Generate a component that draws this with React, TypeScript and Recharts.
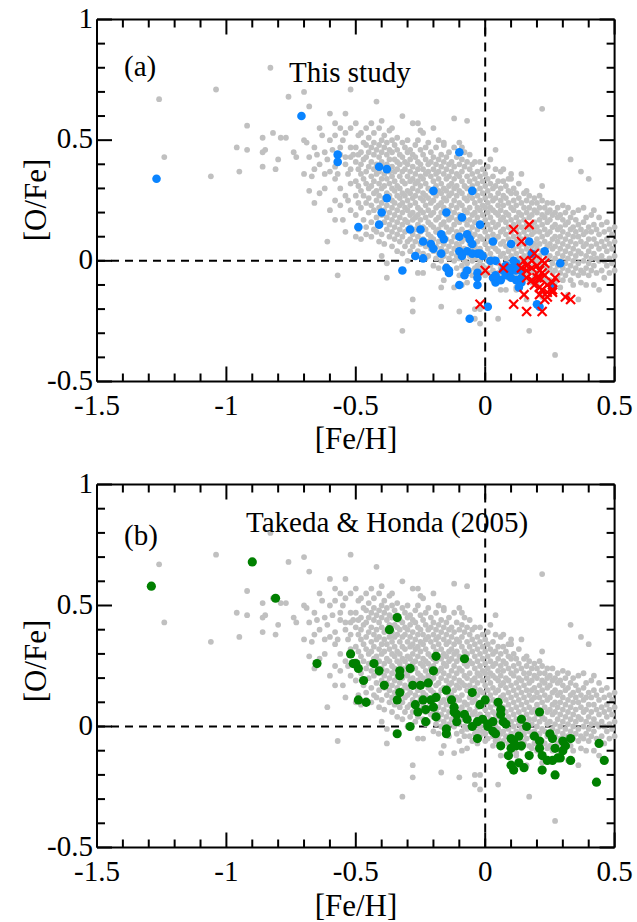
import { ScatterChart, Scatter, XAxis, YAxis, ReferenceLine } from "recharts";

// tick positions and labels
const xTicks = [-1.5, -1.4, -1.3, -1.2, -1.1, -1, -0.9, -0.8, -0.7, -0.6, -0.5, -0.4, -0.3, -0.2, -0.1, 0, 0.1, 0.2, 0.3, 0.4, 0.5];
const xLabels = [-1.5, -1, -0.5, 0, 0.5];
const yTicks = [-0.5, -0.4, -0.3, -0.2, -0.1, 0, 0.1, 0.2, 0.3, 0.4, 0.5, 0.6, 0.7, 0.8, 0.9, 1];
const yLabels = [-0.5, 0, 0.5, 1];

// comparison sample (grey), sparse stars: [Fe/H], [O/Fe]
const greyOutliers: [number, number][] = [
  [-1.26, 0.67], [-1.24, 0.43], [-1.06, 0.35], [-1.04, 0.71], [-0.95, 0.37], [-0.92, 0.56], [-0.96, 0.47],
  [-0.92, 0.46], [-0.86, 0.51], [-0.82, 0.53], [-0.79, 0.51], [-0.86, 0.45], [-0.85, 0.46], [-0.86, 0.39],
  [-0.81, 0.38], [-0.8, 0.42], [-0.83, 0.8], [-0.76, 0.68], [-0.74, 0.45], [-0.73, 0.43], [-0.77, 0.51],
  [-0.61, 0.08], [-0.57, -0.06], [-0.32, -0.29], [0.22, 0.63], [0.33, 0.42], [0.37, 0.37], [0.4, 0.34],
  [0.17, -0.29], [0.27, -0.39], [-0.02, -0.26], [0.05, -0.24], [-0.1, -0.21], [-0.28, -0.16], [-0.28, -0.21],
  [-0.17, -0.19], [-0.04, -0.2], [-0.04, -0.24], [-0.02, -0.2], [-0.16, 0.49], [-0.09, 0.47], [-0.25, 0.54],
  [0.07, 0.38], [0.1, 0.34], [-0.17, -0.11], [-0.09, -0.1], [0.06, -0.12], [0.12, -0.12], [-0.36, 0.55],
  [-0.69, 0.49], [-0.67, 0.35], [-0.65, 0.44], [-0.63, 0.52], [-0.61, 0.42], [-0.59, 0.46], [-0.57, 0.36],
  [-0.55, 0.5], [-0.53, 0.36], [-0.51, 0.44], [-0.53, 0.25], [-0.55, 0.17],
];

// comparison sample (grey), dense part, grouped by [Fe/H]
const greyColumns: [number, number[]][] = [
  [-0.7, [0.7, 0.5, 0.36]],
  [-0.68, [0.64, 0.43, 0.29]],
  [-0.66, [0.47, 0.38, 0.24]],
  [-0.64, [0.55, 0.4, 0.28]],
  [-0.62, [0.45, 0.36, 0.3]],
  [-0.6, [0.61, 0.5, 0.37, 0.21]],
  [-0.58, [0.57, 0.52, 0.39, 0.34, 0.25, 0.17]],
  [-0.56, [0.55, 0.47, 0.44, 0.3, 0.23]],
  [-0.54, [0.61, 0.53, 0.43, 0.4, 0.27, 0.12]],
  [-0.52, [0.71, 0.55, 0.47, 0.43, 0.38, 0.32, 0.21]],
  [-0.5, [0.57, 0.47, 0.41, 0.33, 0.27, 0.19, 0.1]],
  [-0.49, [0.52, 0.44, 0.38, 0.31, 0.24, 0.13]],
  [-0.48, [0.53, 0.45, 0.4, 0.36, 0.29, 0.22, 0.09]],
  [-0.47, [0.49, 0.42, 0.34, 0.27, 0.17]],
  [-0.46, [0.55, 0.48, 0.43, 0.37, 0.32, 0.24, 0.14, 0.11]],
  [-0.45, [0.51, 0.45, 0.39, 0.3, 0.26, 0.2]],
  [-0.44, [0.57, 0.47, 0.41, 0.35, 0.31, 0.23, 0.16, 0.1]],
  [-0.43, [0.53, 0.49, 0.44, 0.38, 0.33, 0.28, 0.21, 0.13]],
  [-0.42, [0.66, 0.46, 0.4, 0.36, 0.29, 0.25, 0.18, 0.12]],
  [-0.41, [0.55, 0.48, 0.43, 0.37, 0.32, 0.27, 0.22, 0.15, 0.08]],
  [-0.4, [0.58, 0.5, 0.45, 0.41, 0.34, 0.3, 0.24, 0.19, 0.11, 0.02]],
  [-0.39, [0.52, 0.47, 0.39, 0.36, 0.31, 0.26, 0.21, 0.16, 0.07]],
  [-0.38, [0.49, 0.44, 0.4, 0.34, 0.28, 0.23, 0.18, 0.13, -0.01, -0.07]],
  [-0.37, [0.54, 0.46, 0.42, 0.37, 0.32, 0.27, 0.2, 0.15, 0.1]],
  [-0.36, [0.5, 0.45, 0.39, 0.35, 0.3, 0.25, 0.22, 0.17, 0.12, 0.06]],
  [-0.35, [0.48, 0.42, 0.37, 0.33, 0.29, 0.24, 0.19, 0.14, 0.09]],
  [-0.34, [0.51, 0.46, 0.41, 0.38, 0.31, 0.27, 0.21, 0.16, 0.11, 0.04]],
  [-0.33, [0.44, 0.4, 0.35, 0.3, 0.26, 0.23, 0.18, 0.13, 0.08]],
  [-0.32, [0.6, 0.49, 0.43, 0.37, 0.33, 0.28, 0.24, 0.2, 0.15, 0.1, 0.03]],
  [-0.31, [0.47, 0.41, 0.38, 0.32, 0.27, 0.22, 0.17, 0.12, 0.06]],
  [-0.3, [0.5, 0.45, 0.4, 0.35, 0.29, 0.25, 0.21, 0.16, 0.13, 0.08, 0.0]],
  [-0.29, [0.46, 0.42, 0.37, 0.33, 0.28, 0.23, 0.19, 0.14, 0.09, 0.04]],
  [-0.28, [0.57, 0.44, 0.39, 0.34, 0.3, 0.26, 0.2, 0.17, 0.11, 0.06]],
  [-0.27, [0.48, 0.43, 0.36, 0.32, 0.27, 0.24, 0.18, 0.13, 0.08, 0.02]],
  [-0.26, [0.57, 0.5, 0.41, 0.38, 0.33, 0.29, 0.22, 0.19, 0.15, 0.1, 0.04, -0.05]],
  [-0.25, [0.46, 0.4, 0.35, 0.31, 0.26, 0.21, 0.17, 0.12, 0.07]],
  [-0.24, [0.53, 0.44, 0.38, 0.34, 0.28, 0.25, 0.2, 0.14, 0.09, 0.03, -0.05]],
  [-0.23, [0.47, 0.42, 0.36, 0.32, 0.27, 0.23, 0.18, 0.13, 0.06, 0.01]],
  [-0.22, [0.49, 0.4, 0.37, 0.3, 0.26, 0.21, 0.16, 0.11, 0.08, 0.02]],
  [-0.21, [0.45, 0.41, 0.35, 0.29, 0.24, 0.19, 0.15, 0.1, 0.05]],
  [-0.2, [0.55, 0.43, 0.38, 0.33, 0.28, 0.25, 0.2, 0.14, 0.09, 0.04, -0.02]],
  [-0.19, [0.47, 0.4, 0.36, 0.31, 0.27, 0.22, 0.17, 0.12, 0.06, 0.01]],
  [-0.18, [0.5, 0.42, 0.37, 0.34, 0.29, 0.23, 0.18, 0.13, 0.08, 0.03, -0.03]],
  [-0.17, [0.44, 0.39, 0.32, 0.28, 0.24, 0.2, 0.15, 0.1, 0.05, 0.0]],
  [-0.16, [0.48, 0.41, 0.36, 0.3, 0.26, 0.22, 0.16, 0.11, 0.07, 0.02, -0.08]],
  [-0.15, [0.43, 0.38, 0.34, 0.29, 0.25, 0.19, 0.14, 0.09, 0.04, -0.02]],
  [-0.14, [0.45, 0.4, 0.35, 0.31, 0.27, 0.21, 0.17, 0.12, 0.06, 0.01, -0.04]],
  [-0.13, [0.41, 0.37, 0.32, 0.28, 0.23, 0.18, 0.13, 0.08, 0.03]],
  [-0.12, [0.59, 0.47, 0.39, 0.34, 0.3, 0.25, 0.2, 0.15, 0.1, 0.05, 0.0, -0.11]],
  [-0.11, [0.43, 0.36, 0.31, 0.27, 0.22, 0.17, 0.12, 0.07, 0.02, -0.03]],
  [-0.1, [0.49, 0.4, 0.35, 0.29, 0.24, 0.19, 0.16, 0.11, 0.06, 0.01, -0.06]],
  [-0.09, [0.42, 0.37, 0.33, 0.28, 0.23, 0.18, 0.13, 0.08, 0.03, -0.02]],
  [-0.08, [0.45, 0.39, 0.31, 0.26, 0.21, 0.17, 0.1, 0.05, 0.0, -0.04]],
  [-0.07, [0.58, 0.41, 0.35, 0.3, 0.25, 0.2, 0.15, 0.09, 0.04, -0.01, -0.09]],
  [-0.06, [0.44, 0.38, 0.33, 0.27, 0.22, 0.17, 0.12, 0.07, 0.02, -0.04]],
  [-0.05, [0.4, 0.36, 0.31, 0.26, 0.19, 0.14, 0.1, 0.05, 0.0, -0.06]],
  [-0.04, [0.41, 0.34, 0.29, 0.24, 0.2, 0.16, 0.11, 0.06, 0.01, -0.03]],
  [-0.03, [0.37, 0.32, 0.27, 0.22, 0.18, 0.13, 0.08, 0.04, -0.02, -0.07]],
  [-0.02, [0.41, 0.35, 0.3, 0.25, 0.21, 0.15, 0.1, 0.05, 0.0, -0.04]],
  [-0.01, [0.38, 0.33, 0.28, 0.23, 0.19, 0.14, 0.09, 0.03, -0.02]],
  [0.0, [0.36, 0.31, 0.26, 0.22, 0.17, 0.12, 0.07, 0.02, -0.03, -0.06]],
  [0.01, [0.39, 0.34, 0.29, 0.24, 0.2, 0.15, 0.1, 0.05, 0.0, -0.05]],
  [0.02, [0.42, 0.32, 0.27, 0.22, 0.18, 0.13, 0.08, 0.03, -0.02]],
  [0.03, [0.35, 0.3, 0.25, 0.21, 0.16, 0.11, 0.06, 0.01, -0.04, -0.08]],
  [0.04, [0.46, 0.38, 0.31, 0.26, 0.2, 0.14, 0.09, 0.05, 0.0, -0.06]],
  [0.05, [0.33, 0.28, 0.23, 0.19, 0.15, 0.1, 0.04, -0.01, -0.05]],
  [0.06, [0.37, 0.3, 0.25, 0.21, 0.17, 0.12, 0.07, 0.02, -0.03, -0.08]],
  [0.07, [0.33, 0.27, 0.23, 0.18, 0.13, 0.08, 0.03, -0.02, -0.06]],
  [0.08, [0.31, 0.26, 0.2, 0.16, 0.11, 0.06, 0.01, -0.04, -0.12]],
  [0.09, [0.34, 0.29, 0.24, 0.19, 0.14, 0.09, 0.04, -0.01, -0.07]],
  [0.1, [0.36, 0.28, 0.22, 0.17, 0.12, 0.07, 0.02, -0.03, -0.06]],
  [0.11, [0.3, 0.25, 0.21, 0.15, 0.1, 0.05, 0.0, -0.05]],
  [0.12, [0.28, 0.23, 0.18, 0.13, 0.08, 0.03, -0.02, -0.07, -0.11]],
  [0.13, [0.32, 0.26, 0.2, 0.16, 0.11, 0.06, 0.01, -0.04]],
  [0.14, [0.36, 0.24, 0.19, 0.14, 0.09, 0.04, -0.01, -0.06, -0.09]],
  [0.15, [0.28, 0.22, 0.17, 0.12, 0.07, 0.02, -0.03, -0.07]],
  [0.16, [0.29, 0.25, 0.2, 0.15, 0.1, 0.05, 0.0, -0.05, -0.16]],
  [0.17, [0.27, 0.22, 0.18, 0.13, 0.08, 0.03, -0.02, -0.08]],
  [0.18, [0.24, 0.19, 0.15, 0.11, 0.06, 0.01, -0.04, -0.09]],
  [0.19, [0.26, 0.21, 0.16, 0.12, 0.07, 0.03, -0.02, -0.07]],
  [0.2, [0.24, 0.2, 0.14, 0.09, 0.05, 0.0, -0.05, -0.1]],
  [0.21, [0.27, 0.22, 0.17, 0.12, 0.07, 0.02, -0.03, -0.08]],
  [0.22, [0.31, 0.25, 0.19, 0.15, 0.1, 0.04, -0.01, -0.06, -0.15]],
  [0.23, [0.22, 0.18, 0.13, 0.08, 0.03, -0.02, -0.07]],
  [0.24, [0.24, 0.2, 0.16, 0.11, 0.06, 0.01, -0.04, -0.09]],
  [0.25, [0.21, 0.17, 0.12, 0.07, 0.02, -0.03, -0.08]],
  [0.26, [0.24, 0.19, 0.14, 0.09, 0.05, -0.01, -0.05, -0.1]],
  [0.27, [0.2, 0.15, 0.1, 0.06, 0.01, -0.04, -0.09]],
  [0.28, [0.22, 0.18, 0.13, 0.08, 0.03, -0.02, -0.07]],
  [0.29, [0.19, 0.14, 0.1, 0.05, 0.0, -0.05, -0.11]],
  [0.3, [0.23, 0.17, 0.12, 0.07, 0.02, -0.03, -0.08]],
  [0.31, [0.2, 0.15, 0.09, 0.04, -0.01, -0.06]],
  [0.32, [0.22, 0.16, 0.11, 0.06, 0.01, -0.04, -0.14]],
  [0.33, [0.18, 0.13, 0.08, 0.03, -0.02, -0.08]],
  [0.34, [0.2, 0.14, 0.1, 0.05, 0.0, -0.05, -0.1]],
  [0.35, [0.17, 0.12, 0.07, 0.02, -0.03]],
  [0.36, [0.21, 0.15, 0.1, 0.04, -0.01, -0.06, -0.16]],
  [0.37, [0.13, 0.08, 0.03, -0.04, -0.09]],
  [0.38, [0.22, 0.16, 0.11, 0.06, 0.0, -0.05]],
  [0.39, [0.18, 0.12, 0.07, 0.02, -0.03, -0.1]],
  [0.4, [0.14, 0.09, 0.04, -0.01, -0.06]],
  [0.41, [0.19, 0.12, 0.06, 0.01, -0.04]],
  [0.42, [0.21, 0.15, 0.09, 0.03, -0.02, -0.1]],
  [0.43, [0.13, 0.07, 0.01, -0.05]],
  [0.44, [0.18, 0.11, 0.05, 0.0, -0.12]],
  [0.45, [0.15, 0.08, 0.02, -0.04]],
  [0.46, [0.12, 0.06, 0.0, -0.07]],
  [0.47, [0.16, 0.09, 0.04, -0.02]],
  [0.48, [0.13, 0.07, 0.01, -0.05]],
  [0.49, [0.11, 0.05, -0.01]],
  [0.5, [0.14, 0.08, 0.02, -0.04]],
];

// (a) this study, filled circles
const studyStars: [number, number][] = [
  [-1.27, 0.34], [-0.71, 0.6], [-0.57, 0.44], [-0.57, 0.41], [-0.41, 0.39], [-0.38, 0.38], [-0.38, 0.26],
  [-0.4, 0.2], [-0.41, 0.15], [-0.49, 0.14], [-0.32, -0.04], [-0.29, 0.13], [-0.1, 0.45], [-0.2, 0.29],
  [-0.05, 0.29], [-0.15, 0.2], [-0.09, 0.18], [-0.02, 0.15], [-0.25, 0.13], [-0.17, 0.11], [-0.16, 0.09],
  [-0.24, 0.08], [-0.21, 0.07], [-0.2, 0.05], [-0.1, 0.1], [-0.07, 0.11], [-0.06, 0.09], [-0.05, 0.07],
  [0.03, 0.08], [0.1, 0.07], [0.17, 0.08], [0.18, 0.03], [0.23, 0.04], [-0.27, 0.02], [-0.24, 0.01],
  [-0.17, 0.03], [-0.1, 0.04], [-0.09, 0.02], [-0.07, 0.04], [-0.05, 0.03], [-0.03, 0.03], [-0.02, 0.03],
  [-0.01, 0.02], [0.02, 0.0], [0.04, 0.0], [0.11, 0.0], [0.12, -0.01], [0.1, -0.03], [0.29, -0.01],
  [-0.15, -0.03], [-0.14, -0.04], [-0.14, -0.05], [-0.07, -0.04], [-0.08, -0.06], [-0.03, -0.05],
  [-0.03, -0.07], [-0.03, -0.1], [-0.1, -0.1], [0.03, -0.07], [0.04, -0.09], [0.06, -0.08], [0.08, -0.06],
  [0.1, -0.07], [0.12, -0.08], [0.1, -0.04], [0.12, -0.04], [0.14, -0.04], [0.13, -0.11], [0.14, -0.09],
  [0.26, -0.11], [0.01, -0.19], [0.2, -0.18], [0.21, -0.19], [-0.06, -0.24], [0.07, -0.04], [0.08, -0.02],
  [0.14, -0.07], [0.04, -0.06],
];

// (a) this study, crosses
const studyCrosses: [number, number][] = [
  [0.11, 0.13], [0.17, 0.15], [0.14, 0.08], [0.19, 0.03], [0.0, -0.04], [0.07, -0.03], [0.15, 0.0],
  [0.16, -0.02], [0.18, 0.0], [0.2, -0.02], [0.22, 0.0], [0.23, -0.01], [0.14, -0.03], [0.16, -0.04],
  [0.18, -0.03], [0.21, -0.04], [0.22, -0.05], [0.16, -0.07], [0.18, -0.08], [0.2, -0.07], [0.23, -0.06],
  [0.27, -0.07], [0.26, -0.09], [0.19, -0.1], [0.21, -0.11], [0.24, -0.1], [0.22, -0.12], [0.24, -0.13],
  [0.21, -0.14], [0.24, -0.15], [0.26, -0.13], [0.23, -0.16], [0.15, -0.14], [0.11, -0.18], [0.16, -0.21],
  [0.22, -0.21], [-0.02, -0.18], [0.31, -0.15], [0.33, -0.16], [0.26, -0.12], [0.21, -0.07],
];

// (b) Takeda & Honda (2005)
const takedaStars: [number, number][] = [
  [-1.29, 0.58], [-0.9, 0.68], [-0.81, 0.53], [-0.65, 0.26], [-0.52, 0.3], [-0.51, 0.26], [-0.34, 0.45],
  [-0.37, 0.4], [-0.5, 0.26], [-0.49, 0.24], [-0.43, 0.26], [-0.41, 0.23], [-0.33, 0.23], [-0.33, 0.21],
  [-0.29, 0.24], [-0.19, 0.29], [-0.08, 0.28], [-0.2, 0.23], [-0.47, 0.19], [-0.39, 0.17], [-0.33, 0.14],
  [-0.28, 0.17], [-0.25, 0.17], [-0.22, 0.18], [-0.15, 0.15], [-0.05, 0.14], [-0.49, 0.11], [-0.46, 0.1],
  [-0.34, 0.11], [-0.27, 0.09], [-0.24, 0.11], [-0.21, 0.11], [-0.19, 0.12], [-0.26, 0.06], [-0.23, 0.07],
  [-0.2, 0.08], [-0.19, 0.04], [-0.13, 0.11], [-0.12, 0.08], [-0.12, 0.06], [-0.23, 0.02], [-0.29, 0.0],
  [-0.34, -0.03], [-0.15, -0.01], [-0.15, -0.03], [-0.11, 0.05], [-0.11, 0.02], [-0.08, 0.05], [-0.07, 0.03],
  [-0.05, 0.0], [-0.03, 0.02], [-0.01, 0.03], [-0.02, 0.09], [0.0, 0.11], [0.05, 0.1], [0.06, 0.07],
  [0.06, 0.05], [0.07, 0.02], [0.01, 0.01], [0.01, 0.0], [0.03, 0.02], [-0.03, -0.05], [0.03, -0.02],
  [0.04, -0.03], [0.08, 0.01], [0.06, -0.08], [0.1, -0.05], [0.11, -0.06], [0.13, -0.04], [0.1, -0.09],
  [0.09, -0.12], [0.1, -0.16], [0.11, -0.18], [0.13, -0.15], [0.15, -0.17], [0.14, 0.03], [0.16, 0.0],
  [0.12, -0.08], [0.14, -0.08], [0.17, -0.12], [0.21, 0.06], [0.19, -0.04], [0.21, -0.06], [0.21, -0.09],
  [0.22, -0.18], [0.22, -0.12], [0.24, -0.14], [0.25, -0.03], [0.26, -0.05], [0.27, -0.09], [0.28, -0.13],
  [0.26, -0.14], [0.29, -0.13], [0.3, -0.1], [0.31, -0.08], [0.33, -0.05], [0.3, -0.06], [0.33, -0.14],
  [0.27, -0.2], [0.44, -0.07], [0.46, -0.14], [0.43, -0.23],
];

const toPoints = (pairs: [number, number][]) => pairs.map(([feh, ofe]) => ({ feh, ofe }));
const greyData = [
  ...toPoints(greyOutliers),
  ...greyColumns.flatMap(([feh, list]) => list.map((ofe) => ({ feh, ofe }))),
];

const FONT = "'Liberation Serif', 'Times New Roman', serif";
const isLabel = (list: number[], v: number) => list.some((l) => Math.abs(l - v) < 1e-6);
const fmt = (v: number) => String(Math.round(v * 10) / 10);

const MAJOR = 15;
const MINOR = 8;

const BottomTick = (props: any) => {
  const { x, y, payload } = props;
  const major = isLabel(xLabels, payload.value);
  return (
    <g>
      <line x1={x} x2={x} y1={y} y2={y - (major ? MAJOR : MINOR)} stroke="#000" strokeWidth={2} />
      {major && (
        <text x={x} y={y + 33} textAnchor="middle" fill="#000" style={{ fontFamily: FONT, fontSize: 29 }}>
          {fmt(payload.value)}
        </text>
      )}
    </g>
  );
};

const TopTick = (props: any) => {
  const { x, y, payload } = props;
  const major = isLabel(xLabels, payload.value);
  return <line x1={x} x2={x} y1={y} y2={y + (major ? MAJOR : MINOR)} stroke="#000" strokeWidth={2} />;
};

const LeftTick = (props: any) => {
  const { x, y, payload } = props;
  const major = isLabel(yLabels, payload.value);
  return (
    <g>
      <line x1={x} x2={x + (major ? MAJOR : MINOR)} y1={y} y2={y} stroke="#000" strokeWidth={2} />
      {major && (
        <text x={x - 4} y={y + 8} textAnchor="end" fill="#000" style={{ fontFamily: FONT, fontSize: 29 }}>
          {fmt(payload.value)}
        </text>
      )}
    </g>
  );
};

const RightTick = (props: any) => {
  const { x, y, payload } = props;
  const major = isLabel(yLabels, payload.value);
  return <line x1={x} x2={x - (major ? MAJOR : MINOR)} y1={y} y2={y} stroke="#000" strokeWidth={2} />;
};

const greyDot = (p: any) => <circle cx={p.cx} cy={p.cy} r={2.9} fill="#c0c0c0" />;
const blueDot = (p: any) => <circle cx={p.cx} cy={p.cy} r={4.3} fill="#0a84ff" />;
const greenDot = (p: any) => <circle cx={p.cx} cy={p.cy} r={4.6} fill="#008000" />;
const redCross = (p: any) => (
  <g stroke="#ff0000" strokeWidth={2.2}>
    <line x1={p.cx - 4.5} y1={p.cy - 4.5} x2={p.cx + 4.5} y2={p.cy + 4.5} />
    <line x1={p.cx - 4.5} y1={p.cy + 4.5} x2={p.cx + 4.5} y2={p.cy - 4.5} />
  </g>
);

const axisLine = { stroke: "#000", strokeWidth: 2 };

type PanelProps = {
  tag: string;
  title: string;
  titleX: number;
  titleY: number;
  tagY: number;
  top: number;
  bottom: number;
  xTitleY: number;
  children: any;
};

function Panel({ tag, title, titleX, titleY, tagY, top, bottom, xTitleY, children }: PanelProps) {
  return (
    <div style={{ position: "relative", width: 637, height: 461 }}>
      <ScatterChart width={637} height={461} margin={{ top, right: 21.4, bottom, left: 96 }}>
        <XAxis
          type="number"
          dataKey="feh"
          domain={[-1.5, 0.5]}
          ticks={xTicks}
          interval={0}
          height={1}
          tickSize={0}
          tickMargin={0}
          tick={BottomTick}
          axisLine={axisLine}
          tickLine={false}
        />
        <XAxis
          xAxisId="top"
          orientation="top"
          type="number"
          dataKey="feh"
          domain={[-1.5, 0.5]}
          ticks={xTicks}
          interval={0}
          height={1}
          tickSize={0}
          tickMargin={0}
          tick={TopTick}
          axisLine={axisLine}
          tickLine={false}
        />
        <YAxis
          type="number"
          dataKey="ofe"
          domain={[-0.5, 1]}
          ticks={yTicks}
          interval={0}
          width={1}
          tickSize={0}
          tickMargin={0}
          tick={LeftTick}
          axisLine={axisLine}
          tickLine={false}
        />
        <YAxis
          yAxisId="right"
          orientation="right"
          type="number"
          dataKey="ofe"
          domain={[-0.5, 1]}
          ticks={yTicks}
          interval={0}
          width={1}
          tickSize={0}
          tickMargin={0}
          tick={RightTick}
          axisLine={axisLine}
          tickLine={false}
        />
        <Scatter data={greyData} dataKey="ofe" shape={greyDot} isAnimationActive={false} />
        <Scatter
          xAxisId="top"
          yAxisId="right"
          data={greyData}
          dataKey="ofe"
          shape={() => <g />}
          isAnimationActive={false}
        />
        <ReferenceLine x={0} stroke="#000" strokeWidth={2} strokeDasharray="9 6" />
        <ReferenceLine y={0} stroke="#000" strokeWidth={2} strokeDasharray="8 6" />
        {children}
      </ScatterChart>
      <svg
        width={637}
        height={461}
        style={{ position: "absolute", left: 0, top: 0, pointerEvents: "none", fontFamily: FONT }}
      >
        <text x={124} y={tagY} style={{ fontSize: 29 }}>{tag}</text>
        <text x={titleX} y={titleY} style={{ fontSize: 29 }}>{title}</text>
        <text x={356} y={xTitleY} style={{ fontSize: 31 }} textAnchor="middle">[Fe/H]</text>
        <text x={46} y={200} style={{ fontSize: 31 }} textAnchor="middle" transform="rotate(-90 46 200)">
          [O/Fe]
        </text>
      </svg>
    </div>
  );
}

export default function App() {
  return (
    <div style={{ position: "absolute", left: 0, top: 0, width: 637, height: 922, background: "#fff" }}>
      <Panel tag="(a)" title="This study" titleX={289} titleY={82} tagY={76} top={18.5} bottom={78.5} xTitleY={449}>
        <Scatter data={toPoints(studyStars)} dataKey="ofe" shape={blueDot} isAnimationActive={false} />
        <Scatter data={toPoints(studyCrosses)} dataKey="ofe" shape={redCross} isAnimationActive={false} />
      </Panel>
      <Panel
        tag="(b)"
        title="Takeda & Honda (2005)"
        titleX={246}
        titleY={71}
        tagY={84}
        top={22.5}
        bottom={73.5}
        xTitleY={455}
      >
        <Scatter data={toPoints(takedaStars)} dataKey="ofe" shape={greenDot} isAnimationActive={false} />
      </Panel>
    </div>
  );
}
